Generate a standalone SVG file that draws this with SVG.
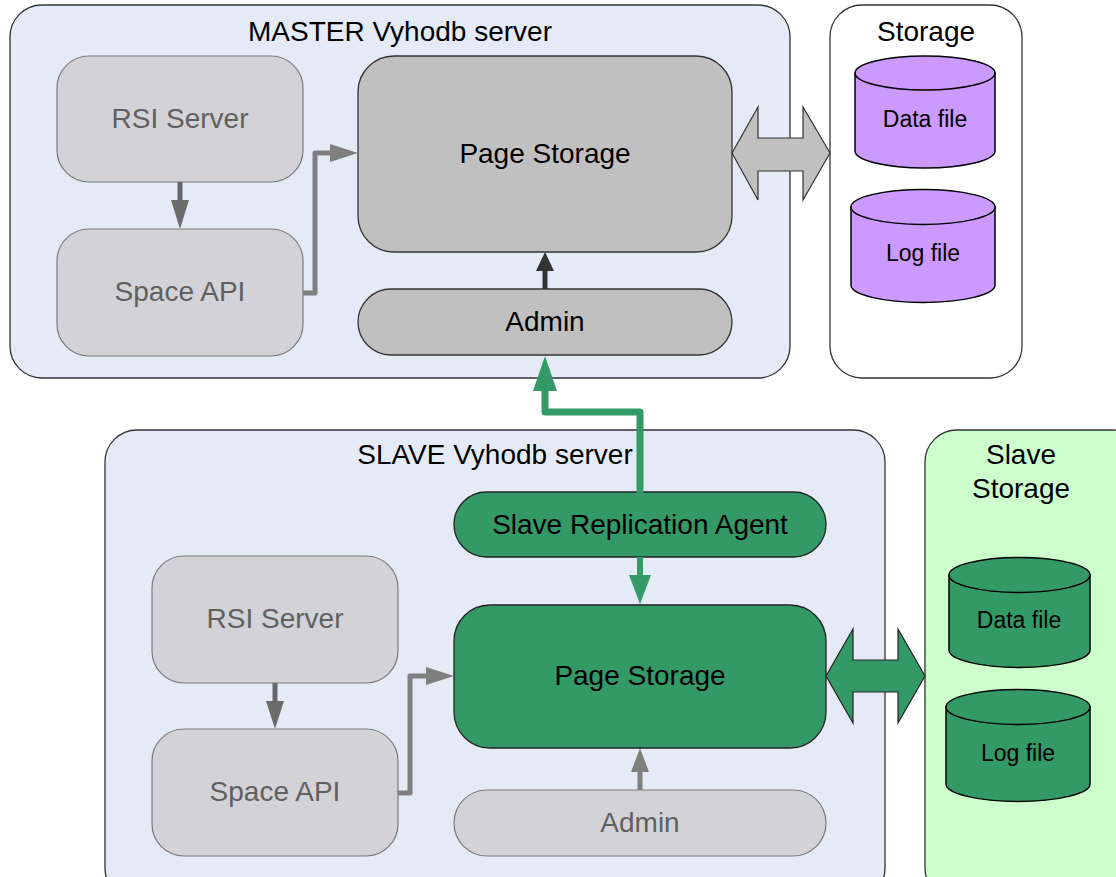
<svg xmlns="http://www.w3.org/2000/svg" width="1116" height="877" viewBox="0 0 1116 877">
<style>
text{font-family:"Liberation Sans",Arial,sans-serif;text-anchor:middle;dominant-baseline:central}
.cont{fill:#e5ebf6;stroke:#333;stroke-width:1.3}
.title{font-size:28px;fill:#000}
.lgray{fill:#d3d3d7;stroke:#7a7a7a;stroke-width:1.2}
.lgray-t{font-size:28px;fill:#606060}
.dgray{fill:#c0c0c0;stroke:#333;stroke-width:1.3}
.green{fill:#339966;stroke:#222;stroke-width:1.3}
.dark-t{font-size:28px;fill:#000}
.cyl-t{font-size:23px;fill:#000}
.purple{fill:#cc99ff;stroke:#000;stroke-width:1.5}
.gcyl{fill:#339966;stroke:#000;stroke-width:1.5}
</style>
<g id="master-server">
<rect class="cont" x="10" y="5" width="780" height="373" rx="32"/>
<text class="title" x="400" y="31">MASTER Vyhodb server</text>
</g>
<g id="master-storage">
<rect x="830" y="5" width="192" height="373" rx="32" fill="#fff" stroke="#333" stroke-width="1.3"/>
<text class="title" x="926" y="31">Storage</text>
</g>
<g id="slave-server">
<rect class="cont" x="105" y="430" width="780" height="470" rx="32"/>
<text class="title" x="495" y="454">SLAVE Vyhodb server</text>
</g>
<g id="slave-storage">
<rect x="925" y="430" width="220" height="470" rx="32" fill="#ccffcc" stroke="#333" stroke-width="1.3"/>
<text class="title" x="1021" y="454">Slave</text>
<text class="title" x="1021" y="488">Storage</text>
</g>
<g id="m-rsi"><rect class="lgray" x="57" y="56" width="246" height="126" rx="32"/><text class="lgray-t" x="180" y="118">RSI Server</text></g>
<g id="m-space"><rect class="lgray" x="57" y="229" width="246" height="127" rx="32"/><text class="lgray-t" x="180" y="291">Space API</text></g>
<g id="m-page"><rect class="dgray" x="358" y="56" width="374" height="196" rx="36"/><text class="dark-t" x="545" y="153">Page Storage</text></g>
<g id="m-admin"><rect class="dgray" x="358" y="289" width="374" height="66" rx="33"/><text class="dark-t" x="545" y="321">Admin</text></g>
<g id="m-data"><path class="purple" d="M855,73 L855,151 A70,17 0 0 0 995,151 L995,73 Z"/><ellipse class="purple" cx="925" cy="73" rx="70" ry="17"/><text class="cyl-t" x="925" y="119">Data file</text></g>
<g id="m-log"><path class="purple" d="M851,207 L851,285 A72,17.5 0 0 0 995,285 L995,207 Z"/><ellipse class="purple" cx="923" cy="207" rx="72" ry="17.5"/><text class="cyl-t" x="923" y="253">Log file</text></g>
<g id="s-rsi"><rect class="lgray" x="152" y="556" width="246" height="127" rx="32"/><text class="lgray-t" x="275" y="618">RSI Server</text></g>
<g id="s-space"><rect class="lgray" x="152" y="729" width="246" height="127" rx="32"/><text class="lgray-t" x="275" y="791">Space API</text></g>
<g id="s-agent"><rect class="green" x="454" y="492" width="372" height="65" rx="32.5"/><text class="dark-t" x="640" y="524">Slave Replication Agent</text></g>
<g id="s-page"><rect class="green" x="454" y="605" width="372" height="143" rx="36"/><text class="dark-t" x="640" y="675">Page Storage</text></g>
<g id="s-admin"><rect class="lgray" x="454" y="790" width="372" height="66" rx="33"/><text class="lgray-t" x="640" y="822">Admin</text></g>
<g id="s-data"><path class="gcyl" d="M949,575 L949,650 A70.5,17.5 0 0 0 1090,650 L1090,575 Z"/><ellipse class="gcyl" cx="1019.5" cy="575" rx="70.5" ry="17.5"/><text class="cyl-t" x="1019" y="620">Data file</text></g>
<g id="s-log"><path class="gcyl" d="M946,707 L946,784 A72,17.5 0 0 0 1090,784 L1090,707 Z"/><ellipse class="gcyl" cx="1018" cy="707" rx="72" ry="17.5"/><text class="cyl-t" x="1018" y="753">Log file</text></g>
<g id="connectors" fill="none">
<line x1="180" y1="182" x2="180" y2="205" stroke="#666" stroke-width="5"/>
<polygon points="171,200 189,200 180,229" fill="#6b6b6b"/>
<polyline points="303,293 315,293 315,153 335,153" stroke="#7f7f7f" stroke-width="5" stroke-linejoin="round"/>
<polygon points="330,144 330,162 358,153" fill="#7f7f7f"/>
<line x1="545" y1="289" x2="545" y2="266" stroke="#333" stroke-width="5"/>
<polygon points="536,271 554,271 545,252" fill="#333"/>
<polygon points="732,153 758,107 758,138 803,138 803,107 830,153 803,200 803,171 758,171 758,200" fill="#c0c0c0" stroke="#333" stroke-width="1.2"/>
<polyline points="640,493 640,412 545,412 545,385" stroke="#339966" stroke-width="7" stroke-linejoin="round"/>
<polygon points="533,391 557,391 545,356" fill="#339966"/>
<line x1="640" y1="557" x2="640" y2="580" stroke="#339966" stroke-width="6"/>
<polygon points="629,575 651,575 640,604" fill="#339966"/>
<line x1="275" y1="683" x2="275" y2="706" stroke="#666" stroke-width="5"/>
<polygon points="266,701 284,701 275,729" fill="#6b6b6b"/>
<polyline points="398,793 410,793 410,676 430,676" stroke="#7f7f7f" stroke-width="5" stroke-linejoin="round"/>
<polygon points="426,667 426,685 454,676" fill="#7f7f7f"/>
<line x1="640" y1="790" x2="640" y2="768" stroke="#7f7f7f" stroke-width="5"/>
<polygon points="631,772 649,772 640,748" fill="#7f7f7f"/>
<polygon points="826,676 853,629 853,660 898,660 898,629 925,676 898,723 898,692 853,692 853,723" fill="#339966" stroke="#222" stroke-width="1.2"/>
</g>
</svg>
